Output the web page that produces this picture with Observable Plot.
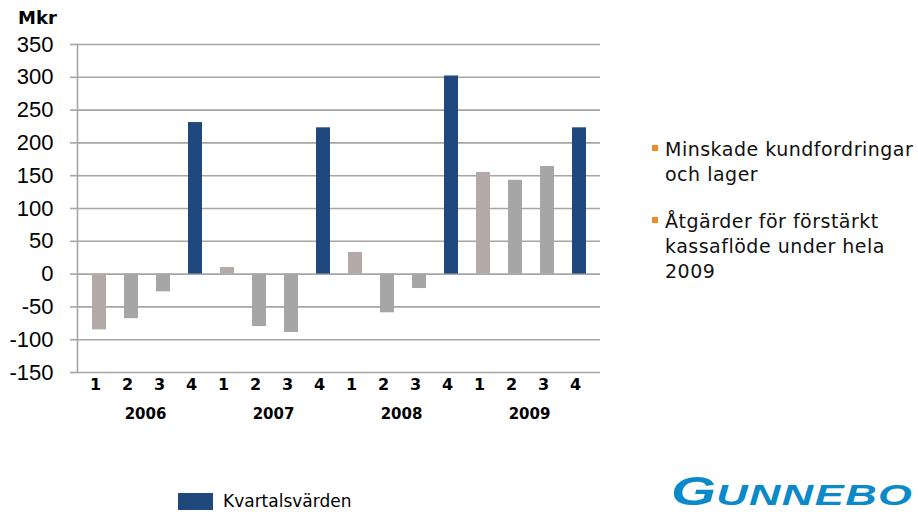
<!DOCTYPE html>
<html>
<head>
<meta charset="utf-8">
<script src="https://cdn.jsdelivr.net/npm/d3@7"></script>
<script src="https://cdn.jsdelivr.net/npm/@observablehq/plot@0.6"></script>
<style>
  html, body { margin: 0; padding: 0; background: #fff; }
  #wrap { position: relative; width: 918px; height: 514px; overflow: hidden; font-family: "DejaVu Sans", Verdana, sans-serif; }
  #wrap svg { position: absolute; left: 0; top: 0; }
  .abs { position: absolute; white-space: nowrap; }
  .unit { left: 18px; top: 7px; font-weight: bold; font-size: 18px; color: #000; }
  .notes { left: 665px; top: 137px; font-size: 19px; line-height: 25px; color: #111; letter-spacing: 0.5px; }
  .notes p { margin: 0 0 22px 0; position: relative; }
  .notes p::before { content: ""; position: absolute; left: -13px; top: 8px; width: 6px; height: 6px; background: #f08a24; }
  .legend { left: 178px; top: 491px; font-size: 17px; color: #000; display: flex; align-items: center; }
  .legend .sw { width: 35px; height: 17px; background: #1f497d; margin-right: 10px; }
  .logo { left: 671px; top: 474px; height: 34px; display: flex; align-items: baseline; font-family: "Liberation Sans", Arial, sans-serif; font-weight: bold; font-style: italic; color: #0b8ac9; transform: scaleX(1.45); transform-origin: left top; }
  .logo .big { display: block; font-size: 40px; line-height: 34px; }
  .logo .small { display: block; font-size: 30px; line-height: 26px; letter-spacing: 1px; }
</style>
</head>
<body>
<div id="wrap">
  <div class="abs unit">Mkr</div>
  <div class="abs notes">
    <p>Minskade kundfordringar<br>och lager</p>
    <p>Åtgärder för förstärkt<br>kassaflöde under hela<br>2009</p>
  </div>
  <div class="abs legend"><span class="sw"></span><span>Kvartalsvärden</span></div>
  <div class="abs logo"><span class="big">G</span><span class="small">UNNEBO</span></div>
</div>
<script>
// Data
const years = ["2006", "2007", "2008", "2009"];
const quarters = ["1", "2", "3", "4"];
const values = [
  -85, -68, -27, 231,   // 2006
   10, -80, -89, 223,   // 2007
   33, -59, -22, 302,   // 2008
  155, 143, 164, 223    // 2009
];
const yTicks = [-150, -100, -50, 0, 50, 100, 150, 200, 250, 300, 350];

const rows = [];
years.forEach((yr, i) => quarters.forEach((q, j) => {
  rows.push({key: yr + "-" + q, year: yr, quarter: q, value: values[i * 4 + j]});
}));
const keys = rows.map(d => d.key);
const colorOf = {"1": "#b3aaa7", "2": "#a6a6a6", "3": "#a6a6a6", "4": "#1f497d"};

const chart = Plot.plot({
  width: 918,
  height: 514,
  marginLeft: 77,
  marginRight: 318,
  marginTop: 44,
  marginBottom: 142,
  style: {fontFamily: "'Liberation Sans', Arial, sans-serif", background: "transparent"},
  x: {domain: keys, paddingInner: 0.57, paddingOuter: 0.285, axis: null},
  y: {domain: [-150, 350], axis: null},
  marks: [
    Plot.ruleY(yTicks, {stroke: "#a6a6a6", strokeWidth: 1.6}),
    Plot.frame({anchor: "left", stroke: "#a6a6a6", strokeWidth: 1.6}),
    Plot.barY(rows, {x: "key", y: "value", fill: d => colorOf[d.quarter]}),
    Plot.axisY({ticks: yTicks, tickSize: 7, tickPadding: 17, stroke: "#a6a6a6", strokeWidth: 1.6,
      fontSize: 22, fill: "#000", tickFormat: d => String(d), label: null}),
    Plot.axisX({tickSize: 0, tickPadding: 6, tickFormat: d => d.split("-")[1],
      fontSize: 16, fontWeight: "bold", fontFamily: "'DejaVu Sans', Verdana, sans-serif", fill: "#000", dx: -4, label: null}),
    Plot.text(years, {x: d => d + "-2", frameAnchor: "bottom", dy: 46, dx: 14, text: d => d,
      fontSize: 15, fontWeight: "bold", fontFamily: "'DejaVu Sans', Verdana, sans-serif", fill: "#000"})
  ]
});
document.getElementById("wrap").prepend(chart);
</script>
</body>
</html>
